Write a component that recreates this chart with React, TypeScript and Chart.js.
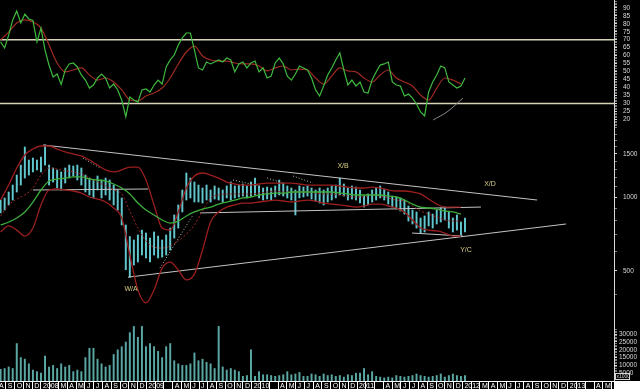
import React, { useEffect, useRef } from 'react';
import { Chart, registerables } from 'chart.js';

Chart.register(...registerables);

const FONT = "'Liberation Sans', 'DejaVu Sans', sans-serif";

// Time axis: weeks counted from 1 Jan 2008
const START_WEEK = -20;
const BAR_STEP = 2;
const LINE_STEP = 4;
const X_MIN = -20.3;
const X_MAX = 283.8;
const WEEKS_PER_MONTH = 52.18 / 12;
const FIRST_MONTH = -5; // Aug 2007

const MONTH_LABELS = ['A','S','O','N','D','2008','','M','A','M','J','J','A','S','O','N','D','2009','','','A','M','J','J','A','S','O','N','D','2010','','','A','M','J','J','A','S','O','N','D','2011','','','A','M','J','J','A','S','O','N','D','2012','','M','A','M','J','J','A','S','O','N','D','2013','','','A','M',''];

// Price bars (high / low), every two weeks
const PRICE_HIGH = [
  972, 991, 1048, 1119, 1229, 1350, 1599, 1415, 1442, 1415,
  1456, 1630, 1350, 1313, 1289, 1265, 1313, 1350, 1338, 1350,
  1313, 1229, 1195, 1173, 1218, 1173, 1195, 1173, 1119, 1068,
  991, 769, 690, 668, 700, 733, 713, 680, 720, 693,
  668, 700, 747, 845, 928, 1068, 1253, 1195, 1151, 1119,
  1088, 1119, 1068, 1109, 1088, 1068, 1109, 1151, 1109, 1119,
  1130, 1109, 1151, 1195, 1109, 1088, 1098, 1088, 1109, 1173,
  1140, 1109, 1088, 1068, 1109, 1098, 1109, 1088, 1068, 1088,
  1068, 1088, 1109, 1119, 1195, 1130, 1088, 1109, 1098, 1068,
  1009, 1029, 1068, 1088, 1109, 1078, 1048, 1009, 1000, 991,
  972, 919, 885, 869, 821, 837, 869, 852, 885, 902,
  910, 869, 821, 845, 791, 821,
];
const PRICE_LOW = [
  861, 885, 928, 972, 1048, 1119, 1195, 1229, 1265, 1289,
  1265, 1350, 1119, 1151, 1088, 1068, 1140, 1195, 1218, 1173,
  1119, 1048, 1019, 991, 1068, 991, 1019, 972, 928, 885,
  769, 505, 471, 528, 543, 580, 564, 543, 580, 564,
  569, 580, 608, 680, 747, 869, 972, 991, 954, 954,
  945, 972, 954, 981, 972, 954, 991, 972, 991, 1000,
  1009, 991, 1009, 1019, 991, 972, 981, 972, 1000, 1019,
  1009, 991, 972, 845, 991, 1000, 1009, 981, 963, 945,
  928, 954, 972, 991, 1019, 1009, 972, 981, 972, 945,
  910, 928, 954, 972, 991, 972, 936, 910, 893, 877,
  852, 798, 776, 747, 713, 720, 762, 747, 776, 791,
  806, 747, 720, 733, 700, 720,
];
const VOLUME = [
  7500, 8000, 9000, 8000, 24000, 15000, 14000, 11000, 7000, 6000,
  5000, 16000, 9000, 10000, 8000, 11000, 9000, 10000, 6000, 7000,
  6000, 15000, 21000, 21000, 14000, 11000, 9000, 10000, 17000, 20000,
  22000, 25000, 31000, 35000, 28000, 35000, 22000, 24000, 22000, 19000,
  15000, 22000, 24000, 13000, 11000, 10000, 10000, 11000, 18000, 13000,
  14000, 12000, 11000, 8000, 35000, 9000, 7000, 8000, 7000, 6000,
  3000, 3500, 20000, 3000, 6000, 4000, 4000, 3500, 3000, 3500,
  4000, 6000, 4000, 4500, 5500, 3000, 3000, 4500, 4000, 3000,
  4500, 3500, 4000, 3000, 3500, 2500, 4000, 3500, 5000, 5000,
  8000, 4000, 6000, 3000, 2500, 2000, 2500, 2000, 3500, 3000,
  2500, 3000, 3500, 4500, 3500, 3000, 2500, 3000, 3500, 4500,
  2500, 3500, 4500, 3500, 3000, 3500,
];
const RSI = [
  68.6, 64.8, 72.9, 82.4, 88.0, 80.5, 86.0, 83.0, 82.0, 68.6,
  77.3, 63.5, 54.0, 46.6, 48.5, 42.0, 51.0, 54.8, 55.4, 52.9,
  47.9, 44.7, 39.7, 41.6, 46.0, 48.5, 46.0, 39.7, 42.2, 38.5,
  32.2, 21.7, 34.1, 32.2, 30.9, 38.5, 39.1, 37.2, 41.6, 44.7,
  42.2, 52.9, 57.3, 60.4, 66.7, 71.1, 74.2, 74.2, 63.5, 52.3,
  51.0, 56.0, 54.8, 56.0, 57.3, 56.0, 58.5, 57.3, 49.8, 54.8,
  56.0, 52.3, 55.4, 56.6, 49.8, 52.3, 46.0, 47.2, 55.4, 58.5,
  54.8, 47.2, 44.7, 48.5, 53.5, 52.3, 51.0, 46.0, 38.5, 34.7,
  41.0, 47.9, 52.3, 57.3, 61.7, 51.0, 41.6, 44.7, 41.0, 43.5,
  37.2, 36.6, 44.7, 49.8, 54.1, 54.8, 56.0, 43.5, 41.6, 41.0,
  34.7, 35.9, 33.4, 29.7, 24.7, 22.2, 37.2, 43.5, 47.9, 53.5,
  52.3, 43.5, 41.6, 39.7, 41.0, 46.0,
];
// Smoothed series, every four weeks
const RSI_MA = [
  69.8, 74.8, 80.5, 82.4, 81.1, 77.3, 66.7, 55.4, 49.8, 51.0,
  52.3, 47.9, 44.7, 46.0, 43.5, 38.5, 32.2, 31.6, 34.7, 36.6,
  39.7, 46.0, 54.8, 62.3, 66.0, 59.8, 57.3, 56.6, 56.6, 55.4,
  54.8, 54.8, 53.5, 50.4, 52.3, 53.5, 51.0, 51.6, 51.0, 46.0,
  42.2, 47.2, 52.3, 50.4, 49.8, 46.0, 43.5, 47.9, 51.0, 46.0,
  43.5, 41.0, 35.3, 32.2, 39.7, 46.0, 44.7, 42.2,
];
const MA_LONG = [
  769, 791, 821, 869, 954, 1068, 1162, 1184, 1195, 1207,
  1207, 1184, 1173, 1162, 1130, 1088, 1029, 945, 885, 845,
  806, 783, 798, 837, 869, 893, 910, 936, 954, 972,
  991, 1000, 1019, 1029, 1038, 1038, 1048, 1048, 1048, 1048,
  1048, 1048, 1038, 1029, 1019, 1019, 1019, 1019, 1009, 1000,
  972, 936, 910, 902, 893, 877, 869, 852,
];
const BB_UPPER = [
  972, 1119, 1313, 1483, 1569, 1614, 1614, 1569, 1526, 1497,
  1470, 1415, 1350, 1289, 1265, 1289, 1325, 1325, 1173, 928,
  747, 733, 869, 1088, 1218, 1253, 1229, 1195, 1151, 1130,
  1119, 1119, 1130, 1140, 1140, 1140, 1140, 1130, 1119, 1119,
  1119, 1119, 1109, 1098, 1088, 1088, 1098, 1088, 1068, 1058,
  1058, 1048, 1029, 981, 936, 910, 910, 910,
];
const BB_LOWER = [
  720, 762, 733, 693, 747, 928, 1068, 1078, 1068, 1058,
  1038, 1000, 981, 954, 902, 821, 580, 418, 370, 418,
  513, 543, 504, 459, 485, 608, 791, 869, 910, 928,
  945, 945, 954, 963, 972, 963, 954, 963, 972, 963,
  945, 936, 928, 919, 910, 919, 936, 936, 919, 902,
  869, 806, 747, 733, 727, 713, 693, 693,
];
const BB_MID = [
  837, 928, 981, 1019, 1088, 1229, 1313, 1301, 1277, 1265,
  1241, 1195, 1151, 1109, 1068, 1029, 877, 747, 662, 625,
  619, 631, 662, 706, 769, 877, 991, 1019, 1029, 1029,
  1029, 1029, 1038, 1048, 1058, 1048, 1048, 1048, 1048, 1038,
  1029, 1029, 1019, 1009, 1000, 1000, 1019, 1009, 991, 972,
  963, 919, 877, 852, 829, 806, 798, 798,
];
// Stop-and-reverse dotted runs: [week, price] end points
const SAR_RUNS = [
  [[20.8, 1442], [29.2, 1313]],
  [[58.9, 513], [75.3, 845]],
  [[95.1, 1173], [108.5, 1109]],
  [[112.0, 1195], [119.9, 1140]],
  [[124.8, 1218], [134.7, 1140]],
];
// Trend lines: [week, price] end points
const TREND_LINES = [
  [[1.0, 1630], [245.7, 972]],
  [[43.1, 471], [260.0, 776]],
  [[-4.0, 1068], [53.0, 1078]],
  [[78.8, 861], [217.9, 910]],
  [[183.8, 713], [209.0, 693]],
];
const RSI_TREND = [[194.2, 19.7], [201.1, 24.7], [209.0, 33.4]];
const RSI_LEVELS = [70, 30];
const NOTES = [
  { text: 'W/A', week: 44.6, price: 422 },
  { text: 'X/B', week: 149.6, price: 1338 },
  { text: 'X/D', week: 222.4, price: 1130 },
  { text: 'Y/C', week: 210.5, price: 608 },
];
const RSI_LABELS = [20, 25, 30, 35, 40, 45, 50, 55, 60, 65, 70, 75, 80, 85, 90];
const PRICE_LABELS = [500, 1000, 1500];
const VOLUME_LABELS = [5000, 10000, 15000, 20000, 25000, 30000];

const range = (a: number, b: number, s: number) => {
  const out: number[] = [];
  for (let v = a; v <= b + 1e-9; v += s) out.push(v);
  return out;
};

const barX = (i: number) => START_WEEK + i * BAR_STEP;
const lineX = (j: number) => START_WEEK + j * LINE_STEP;
const pts = (arr: number[], fx: (i: number) => number) => arr.map((v, i) => ({ x: fx(i), y: v }));

const noPad = (s: any) => {
  s.paddingTop = 0;
  s.paddingBottom = 0;
  s.paddingLeft = 0;
  s.paddingRight = 0;
};

function xAxis(show: boolean) {
  return {
    type: 'linear',
    min: X_MIN,
    max: X_MAX,
    offset: false,
    display: show,
    afterBuildTicks: (s: any) => {
      s.ticks = MONTH_LABELS.map((_, k) => ({ value: (FIRST_MONTH + k) * WEEKS_PER_MONTH }));
    },
    afterFit: (s: any) => { s.height = show ? 8 : 0; noPad(s); },
    grid: { display: true, drawOnChartArea: false, drawTicks: true, tickLength: 8, color: '#ffffff', lineWidth: 1, offset: false },
    border: { display: true, color: '#ffffff', width: 1 },
    ticks: {
      autoSkip: false, maxRotation: 0, minRotation: 0, padding: -7, align: 'start', labelOffset: 2,
      color: '#ffffff', font: { family: FONT, size: 7 },
      callback: (_v: any, i: number) => MONTH_LABELS[i] ?? '',
    },
  };
}

function yAxis(type: string, min: number, max: number, tickVals: number[], labels: number[], padding: number) {
  return {
    type,
    position: 'right',
    min,
    max,
    afterBuildTicks: (s: any) => { s.ticks = tickVals.map((v) => ({ value: v })); },
    afterFit: (s: any) => { s.width = 26; noPad(s); },
    grid: {
      drawOnChartArea: false, drawTicks: true, tickLength: 3,
      color: (c: any) => (c.tick && labels.includes(c.tick.value) ? '#d8d8d8' : '#7c7c7c'),
    },
    border: { display: true, color: '#d8d8d8', width: 1 },
    ticks: {
      autoSkip: false, padding, color: '#d8d8d8', font: { family: FONT, size: 6.5 },
      callback: (v: any) => (labels.includes(v) ? String(v) : ''),
    },
  };
}

const baseOptions = {
  animation: false,
  responsive: false,
  maintainAspectRatio: false,
  devicePixelRatio: 1,
  events: [],
  layout: { autoPadding: false, padding: 0 },
  plugins: { legend: { display: false }, tooltip: { enabled: false }, title: { display: false } },
  elements: { point: { radius: 0 } },
};

const smooth = { tension: 0.4, cubicInterpolationMode: 'monotone' as const };

const notesPlugin = {
  id: 'notes',
  afterDatasetsDraw(chart: any) {
    const { ctx, scales } = chart;
    ctx.save();
    ctx.fillStyle = '#d6cd84';
    ctx.font = `7px ${FONT}`;
    ctx.textAlign = 'center';
    ctx.textBaseline = 'middle';
    NOTES.forEach((n) => ctx.fillText(n.text, scales.x.getPixelForValue(n.week), scales.y.getPixelForValue(n.price)));
    ctx.restore();
  },
};

const cornerPlugin = {
  id: 'corner',
  afterDraw(chart: any) {
    const { ctx, chartArea } = chart;
    ctx.save();
    ctx.fillStyle = '#ffffff';
    ctx.fillRect(chartArea.right, chartArea.bottom, chart.width - chartArea.right, chart.height - chartArea.bottom);
    ctx.fillStyle = '#000000';
    ctx.fillRect(chartArea.right + 1, chartArea.bottom - 7, 14, 6);
    ctx.strokeStyle = '#d8d8d8';
    ctx.lineWidth = 1;
    ctx.strokeRect(chartArea.right + 1.5, chartArea.bottom - 7.5, 14, 6);
    ctx.fillStyle = '#d8d8d8';
    ctx.font = `5px ${FONT}`;
    ctx.textBaseline = 'middle';
    ctx.fillText('x1000', chartArea.right + 2.5, chartArea.bottom - 4.5);
    ctx.restore();
  },
};

export default function App() {
  const rsiRef = useRef<HTMLCanvasElement>(null);
  const priceRef = useRef<HTMLCanvasElement>(null);
  const volRef = useRef<HTMLCanvasElement>(null);

  useEffect(() => {
    document.body.style.margin = '0';
    document.body.style.background = '#000';
    const charts: Chart[] = [];

    charts.push(new Chart(rsiRef.current as HTMLCanvasElement, {
      type: 'line',
      data: {
        datasets: [
          { data: pts(RSI, barX), borderColor: '#3fb93f', borderWidth: 1.2, tension: 0 },
          { data: pts(RSI_MA, lineX), borderColor: '#9e2b22', borderWidth: 1.2, ...smooth },
          { data: RSI_TREND.map(([x, y]) => ({ x, y })), borderColor: '#8a8a8a', borderWidth: 1, ...smooth },
          ...RSI_LEVELS.map((lv) => ({
            data: [{ x: X_MIN, y: lv }, { x: X_MAX, y: lv }], borderColor: '#d6d3b8', borderWidth: 1.5,
          })),
        ],
      },
      options: {
        ...baseOptions,
        scales: {
          x: xAxis(false),
          y: yAxis('linear', 14.64, 94.89, range(15, 94, 1), RSI_LABELS, 6),
        },
      } as any,
    }));

    charts.push(new Chart(priceRef.current as HTMLCanvasElement, {
      type: 'line',
      data: {
        datasets: [
          { data: pts(MA_LONG, lineX), borderColor: '#3cae3c', borderWidth: 1.3, ...smooth },
          { data: pts(BB_UPPER, lineX), borderColor: '#9a1f1f', borderWidth: 1.3, ...smooth },
          { data: pts(BB_LOWER, lineX), borderColor: '#9a1f1f', borderWidth: 1.3, clip: false, ...smooth },
          { data: pts(BB_MID, lineX), borderColor: '#a02626', borderWidth: 1, borderDash: [2, 2], ...smooth },
          ...SAR_RUNS.map((ln) => ({
            data: ln.map(([x, y]) => ({ x, y })), borderColor: '#bdbdbd', borderWidth: 1, borderDash: [1, 2],
          })),
          ...TREND_LINES.map((ln) => ({
            data: ln.map(([x, y]) => ({ x, y })), borderColor: '#c4c4c4', borderWidth: 1,
          })),
          {
            type: 'bar',
            data: PRICE_HIGH.map((h, i) => ({ x: barX(i), y: [PRICE_LOW[i], h] })),
            backgroundColor: '#62c6cd', borderWidth: 0, barThickness: 1.3,
          },
        ],
      },
      options: {
        ...baseOptions,
        layout: { autoPadding: false, padding: { top: 0, left: 0, right: 0, bottom: 18 } },
        scales: {
          x: xAxis(false),
          y: yAxis('logarithmic', 380.2, 1911.5, range(400, 1800, 100), PRICE_LABELS, 6),
        },
      } as any,
      plugins: [notesPlugin],
    }));

    charts.push(new Chart(volRef.current as HTMLCanvasElement, {
      type: 'bar',
      data: {
        datasets: [
          {
            data: pts(VOLUME, barX), backgroundColor: '#5aa7a3', borderWidth: 0, barThickness: 1.3,
          },
        ],
      },
      options: {
        ...baseOptions,
        scales: {
          x: xAxis(true),
          y: yAxis('linear', 0, 51923, range(1000, 33000, 1000), VOLUME_LABELS, 2),
        },
      } as any,
      plugins: [cornerPlugin],
    }));

    return () => charts.forEach((c) => c.destroy());
  }, []);

  const cs = (top: number, h: number): React.CSSProperties => ({ position: 'absolute', left: 0, top, width: 640, height: h });

  return (
    <div style={{ position: 'relative', width: 640, height: 389, background: '#000', overflow: 'hidden' }}>
      <canvas ref={rsiRef} width={640} height={128} style={cs(0, 128)} />
      <canvas ref={priceRef} width={640} height={190} style={cs(128, 190)} />
      <canvas ref={volRef} width={640} height={89} style={cs(300, 89)} />
    </div>
  );
}
